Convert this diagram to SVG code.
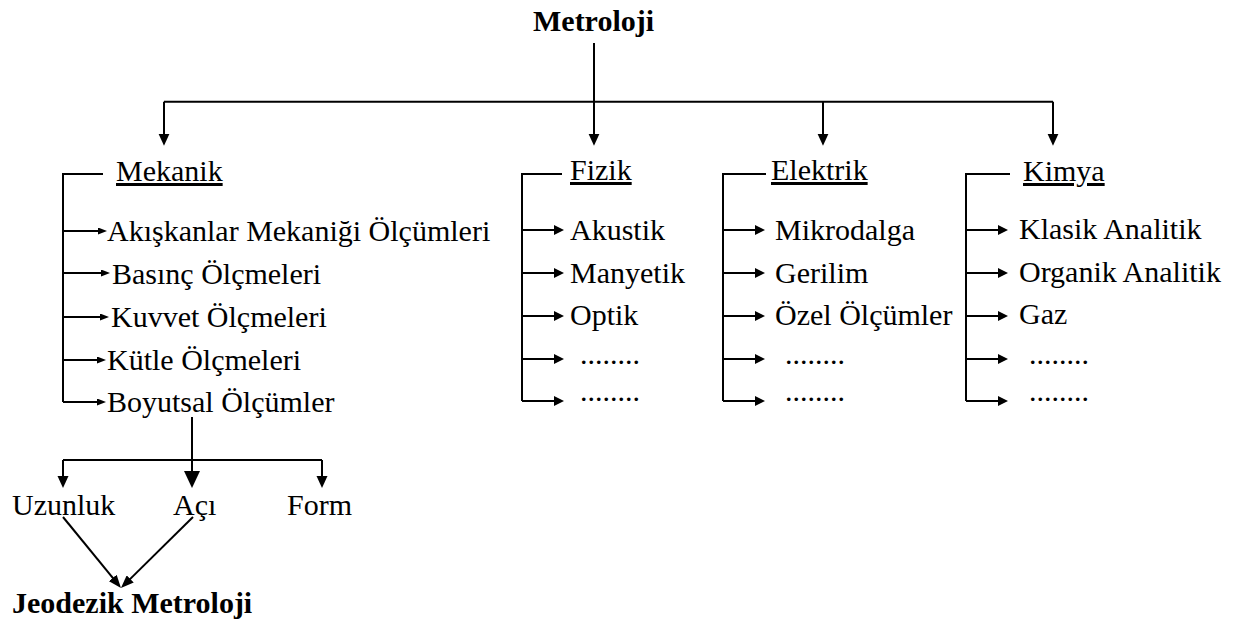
<svg xmlns="http://www.w3.org/2000/svg" width="1236" height="625" viewBox="0 0 1236 625">
<style>
text{font-family:"Liberation Serif","Times New Roman",serif;font-size:30px;fill:#000}
.b{font-weight:bold}
.u{text-decoration:underline}
.c path{fill:none;stroke:#000;stroke-width:2}
.a1{marker-end:url(#mTop)}
.a2{marker-end:url(#mSm)}
.a3{marker-end:url(#mMd)}
.a4{marker-end:url(#mBig)}
.a5{marker-end:url(#mDg)}
</style>
<defs>
<marker id="mTop" markerUnits="userSpaceOnUse" markerWidth="13" markerHeight="12" refX="1" refY="5.5" orient="auto"><path d="M0,0L12,5.5L0,11z" fill="#000"/></marker>
<marker id="mSm" markerUnits="userSpaceOnUse" markerWidth="10" markerHeight="8" refX="1" refY="3.5" orient="auto"><path d="M0,0L9,3.5L0,7z" fill="#000"/></marker>
<marker id="mMd" markerUnits="userSpaceOnUse" markerWidth="11" markerHeight="10" refX="1" refY="5" orient="auto"><path d="M0,0L10,5L0,10z" fill="#000"/></marker>
<marker id="mBig" markerUnits="userSpaceOnUse" markerWidth="18" markerHeight="16" refX="1" refY="8" orient="auto"><path d="M0,0L17,8L0,16z" fill="#000"/></marker>
<marker id="mDg" markerUnits="userSpaceOnUse" markerWidth="14" markerHeight="10" refX="1" refY="5" orient="auto"><path d="M0,0L13,5L0,10z" fill="#000"/></marker>
</defs>
<rect width="1236" height="625" fill="#fff"/>
<g id="connectors" class="c">
<path d="M594,43V134.7" class="a1"/>
<path d="M164,101.7H1053"/>
<path d="M164,101.7V134.7" class="a1"/>
<path d="M823,101.7V134.7" class="a1"/>
<path d="M1053,101.7V134.7" class="a1"/>
<path d="M103,174H63V402"/>
<path d="M63,231H99" class="a2"/>
<path d="M63,273H102" class="a2"/>
<path d="M63,317H101" class="a2"/>
<path d="M63,360H98" class="a2"/>
<path d="M63,402H98" class="a2"/>
<path d="M562,174H522V401"/>
<path d="M522,230H555" class="a3"/>
<path d="M522,273H555" class="a3"/>
<path d="M522,316H555" class="a3"/>
<path d="M522,359H555" class="a3"/>
<path d="M522,401H555" class="a3"/>
<path d="M766,174H723V401"/>
<path d="M723,230H756" class="a3"/>
<path d="M723,273H756" class="a3"/>
<path d="M723,316H756" class="a3"/>
<path d="M723,359H756" class="a3"/>
<path d="M723,401H756" class="a3"/>
<path d="M1010,174H966V401"/>
<path d="M966,230H999" class="a3"/>
<path d="M966,273H999" class="a3"/>
<path d="M966,316H999" class="a3"/>
<path d="M966,359H999" class="a3"/>
<path d="M966,401H999" class="a3"/>
<path d="M192,417V472" class="a4"/>
<path d="M63,460H322"/>
<path d="M63,460V477" class="a1"/>
<path d="M322,460V477" class="a1"/>
<path d="M63,517L113.4,578.7" class="a5"/>
<path d="M193,517L129.5,579.6" class="a5"/>
</g>
<g id="metroloji"><text class="b" x="533" y="31">Metroloji</text></g>
<g id="mekanik"><text class="u" x="116" y="181">Mekanik</text></g>
<g id="fizik"><text class="u" x="570" y="180">Fizik</text></g>
<g id="elektrik"><text class="u" x="771" y="180">Elektrik</text></g>
<g id="kimya"><text class="u" x="1023" y="181">Kimya</text></g>
<g id="mek-items">
<text x="107" y="241">Akışkanlar Mekaniği Ölçümleri</text>
<text x="112" y="284">Basınç Ölçmeleri</text>
<text x="111" y="327">Kuvvet Ölçmeleri</text>
<text x="107" y="370">Kütle Ölçmeleri</text>
<text x="107" y="412">Boyutsal Ölçümler</text>
</g>
<g id="fiz-items">
<text x="570" y="240">Akustik</text>
<text x="570" y="283">Manyetik</text>
<text x="570" y="325">Optik</text>
<text x="580" y="364">........</text>
<text x="580" y="401">........</text>
</g>
<g id="ele-items">
<text x="775" y="240">Mikrodalga</text>
<text x="775" y="283">Gerilim</text>
<text x="775" y="325">Özel Ölçümler</text>
<text x="785" y="364">........</text>
<text x="785" y="401">........</text>
</g>
<g id="kim-items">
<text x="1019" y="239">Klasik Analitik</text>
<text x="1019" y="282">Organik Analitik</text>
<text x="1019" y="324">Gaz</text>
<text x="1029" y="364">........</text>
<text x="1029" y="401">........</text>
</g>
<g id="uzunluk"><text x="12" y="515">Uzunluk</text></g>
<g id="aci"><text x="173" y="515">Açı</text></g>
<g id="form"><text x="287" y="515">Form</text></g>
<g id="jeodezik"><text class="b" x="12" y="613">Jeodezik Metroloji</text></g>
</svg>
